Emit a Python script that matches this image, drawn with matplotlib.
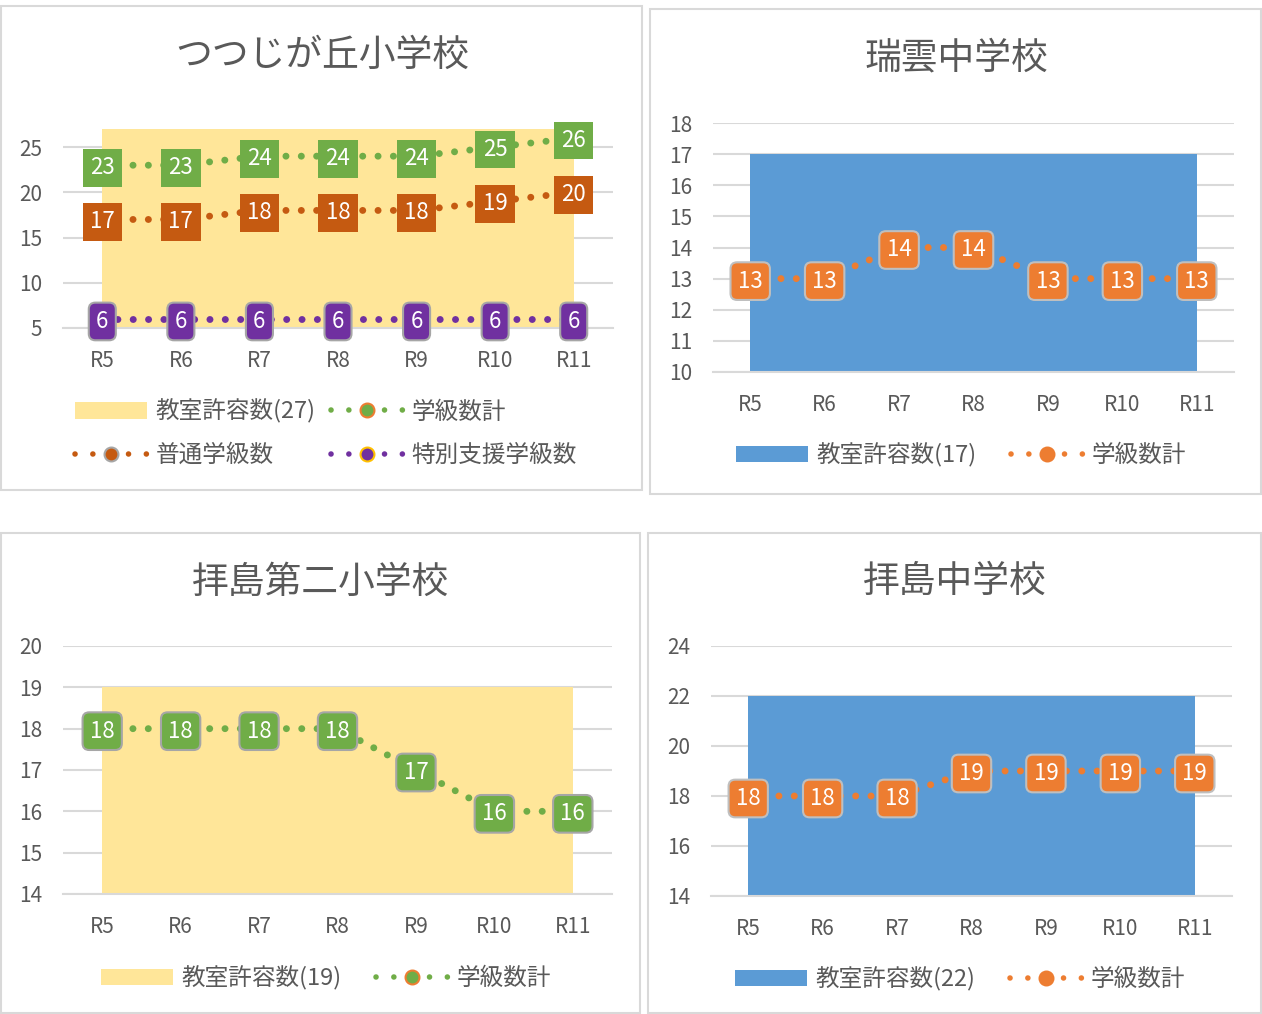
import matplotlib
matplotlib.use('Agg')
import matplotlib.pyplot as plt
from matplotlib.patches import Rectangle, Patch
from matplotlib.lines import Line2D

plt.rcParams['font.family'] = ['Noto Sans CJK JP', 'DejaVu Sans']

W, H = 1262, 1014

# データ
years = ['R5', 'R6', 'R7', 'R8', 'R9', 'R10', 'R11']

tsutsuji_cap = 27
tsutsuji_total = [23, 23, 24, 24, 24, 25, 26]
tsutsuji_normal = [17, 17, 18, 18, 18, 19, 20]
tsutsuji_special = [6, 6, 6, 6, 6, 6, 6]

zuiun_cap = 17
zuiun_total = [13, 13, 14, 14, 13, 13, 13]

haijima2_cap = 19
haijima2_total = [18, 18, 18, 18, 17, 16, 16]

haijima_chu_cap = 22
haijima_chu_total = [18, 18, 18, 19, 19, 19, 19]

GREEN = '#70AD47'
DORANGE = '#C55A11'
PURPLE = '#7030A0'
ORANGE = '#ED7D31'
BLUE = '#5B9BD5'
YELLOW = '#FFE699'
GRID = '#D9D9D9'
TEXT = '#595959'

fig = plt.figure(figsize=(W / 100, H / 100), dpi=100)


def fx(px):
    return px / W


def fy(py):
    return 1 - py / H


def panel_border(x0, y0, x1, y1):
    fig.patches.append(Rectangle((fx(x0), fy(y1)), fx(x1 - x0), (y1 - y0) / H,
                                 transform=fig.transFigure, fill=False,
                                 edgecolor=GRID, linewidth=1.5))


def make_axes(xl, xr, ytop, ybot, ylim, yticks):
    ax = fig.add_axes([fx(xl), fy(ybot), fx(xr - xl), (ybot - ytop) / H])
    ax.set_xlim(-0.5, len(years) - 0.5)
    ax.set_ylim(*ylim)
    ax.set_yticks(yticks)
    ax.set_xticks(range(len(years)))
    ax.set_xticklabels(years)
    for s in ['top', 'right', 'left']:
        ax.spines[s].set_visible(False)
    ax.spines['bottom'].set_color(GRID)
    ax.spines['bottom'].set_linewidth(1.5)
    ax.spines['bottom'].set_zorder(2.5)
    ax.grid(axis='y', color=GRID, linewidth=1.5, zorder=0)
    ax.set_axisbelow(True)
    ax.tick_params(length=0, labelsize=15, colors=TEXT)
    ax.tick_params(axis='y', pad=15)
    ax.tick_params(axis='x', pad=16)
    ax.patch.set_visible(False)
    return ax


def draw_line(ax, vals, color, box_ec=None, rounded=True):
    x = range(len(vals))
    ax.plot(x, vals, color=color, lw=5, linestyle=(0, (0.01, 2.2)),
            dash_capstyle='round', zorder=3)
    if rounded:
        style = 'round,pad=0.33,rounding_size=0.3'
    else:
        style = 'square,pad=0.33'
    for xi, v in zip(x, vals):
        ax.text(xi, v, str(v), ha='center', va='center_baseline', color='white',
                fontsize=16, zorder=5, clip_on=False,
                bbox=dict(boxstyle=style, fc=color,
                          ec=box_ec if box_ec else color,
                          lw=1.5 if box_ec else 0))


def line_handle(color, mec):
    return Line2D([0], [0], color=color, lw=4, linestyle=(0, (0.01, 3.2)),
                  dash_capstyle='round', marker='o', markersize=10,
                  markerfacecolor=color, markeredgecolor=mec,
                  markeredgewidth=1.5)


def add_legend(ax, handles, labels, cx, cy, ncol, colsp):
    ax.legend(handles, labels, loc='center', bbox_to_anchor=(fx(cx), fy(cy)),
              bbox_transform=fig.transFigure, ncol=ncol, frameon=False,
              fontsize=17, labelcolor=TEXT, handlelength=3.06,
              handletextpad=0.35, columnspacing=colsp, labelspacing=0.85)


# パネル枠
panel_border(1, 6, 642, 490)
panel_border(650, 9, 1261, 494)
panel_border(1, 533, 640, 1013)
panel_border(648, 533, 1261, 1013)

# つつじが丘小学校
ax1 = make_axes(63, 613, 120, 328, (5, 28), [5, 10, 15, 20, 25])
ax1.fill_between(range(len(years)), 5, [tsutsuji_cap] * len(years),
                 color=YELLOW, lw=0, zorder=1)
draw_line(ax1, tsutsuji_total, GREEN, rounded=False)
draw_line(ax1, tsutsuji_normal, DORANGE, rounded=False)
draw_line(ax1, tsutsuji_special, PURPLE, box_ec='#A6A6A6')
fig.text(fx(322), fy(55), 'つつじが丘小学校', ha='center', va='center',
         fontsize=26.5, color=TEXT)
add_legend(ax1,
           [Patch(fc=YELLOW, ec='none'), line_handle(DORANGE, '#A6A6A6'),
            line_handle(GREEN, ORANGE), line_handle(PURPLE, '#FFC000')],
           [f'教室許容数({tsutsuji_cap})', '普通学級数', '学級数計', '特別支援学級数'],
           326, 433, 2, 0.65)

# 瑞雲中学校
ax2 = make_axes(713, 1234, 123, 372, (10, 18), list(range(10, 19)))
ax2.fill_between(range(len(years)), 10, [zuiun_cap] * len(years),
                 color=BLUE, lw=0, zorder=1)
draw_line(ax2, zuiun_total, ORANGE, box_ec='#BFBFBF')
fig.text(fx(956), fy(58), '瑞雲中学校', ha='center', va='center',
         fontsize=26.5, color=TEXT)
add_legend(ax2, [Patch(fc=BLUE, ec='none'), line_handle(ORANGE, ORANGE)],
           [f'教室許容数({zuiun_cap})', '学級数計'], 961, 455, 2, 1.45)

# 拝島第二小学校
ax3 = make_axes(63, 612, 646, 894, (14, 20), list(range(14, 21)))
ax3.fill_between(range(len(years)), 14, [haijima2_cap] * len(years),
                 color=YELLOW, lw=0, zorder=1)
draw_line(ax3, haijima2_total, GREEN, box_ec='#A6A6A6')
fig.text(fx(321), fy(582), '拝島第二小学校', ha='center', va='center',
         fontsize=26.5, color=TEXT)
add_legend(ax3, [Patch(fc=YELLOW, ec='none'), line_handle(GREEN, ORANGE)],
           [f'教室許容数({haijima2_cap})', '学級数計'], 326, 978, 2, 1.45)

# 拝島中学校
ax4 = make_axes(711, 1232, 646, 896, (14, 24), list(range(14, 25, 2)))
ax4.fill_between(range(len(years)), 14, [haijima_chu_cap] * len(years),
                 color=BLUE, lw=0, zorder=1)
draw_line(ax4, haijima_chu_total, ORANGE, box_ec='#BFBFBF')
fig.text(fx(955), fy(581), '拝島中学校', ha='center', va='center',
         fontsize=26.5, color=TEXT)
add_legend(ax4, [Patch(fc=BLUE, ec='none'), line_handle(ORANGE, ORANGE)],
           [f'教室許容数({haijima_chu_cap})', '学級数計'], 960, 979, 2, 1.45)

fig.savefig('out.png', dpi=100)
